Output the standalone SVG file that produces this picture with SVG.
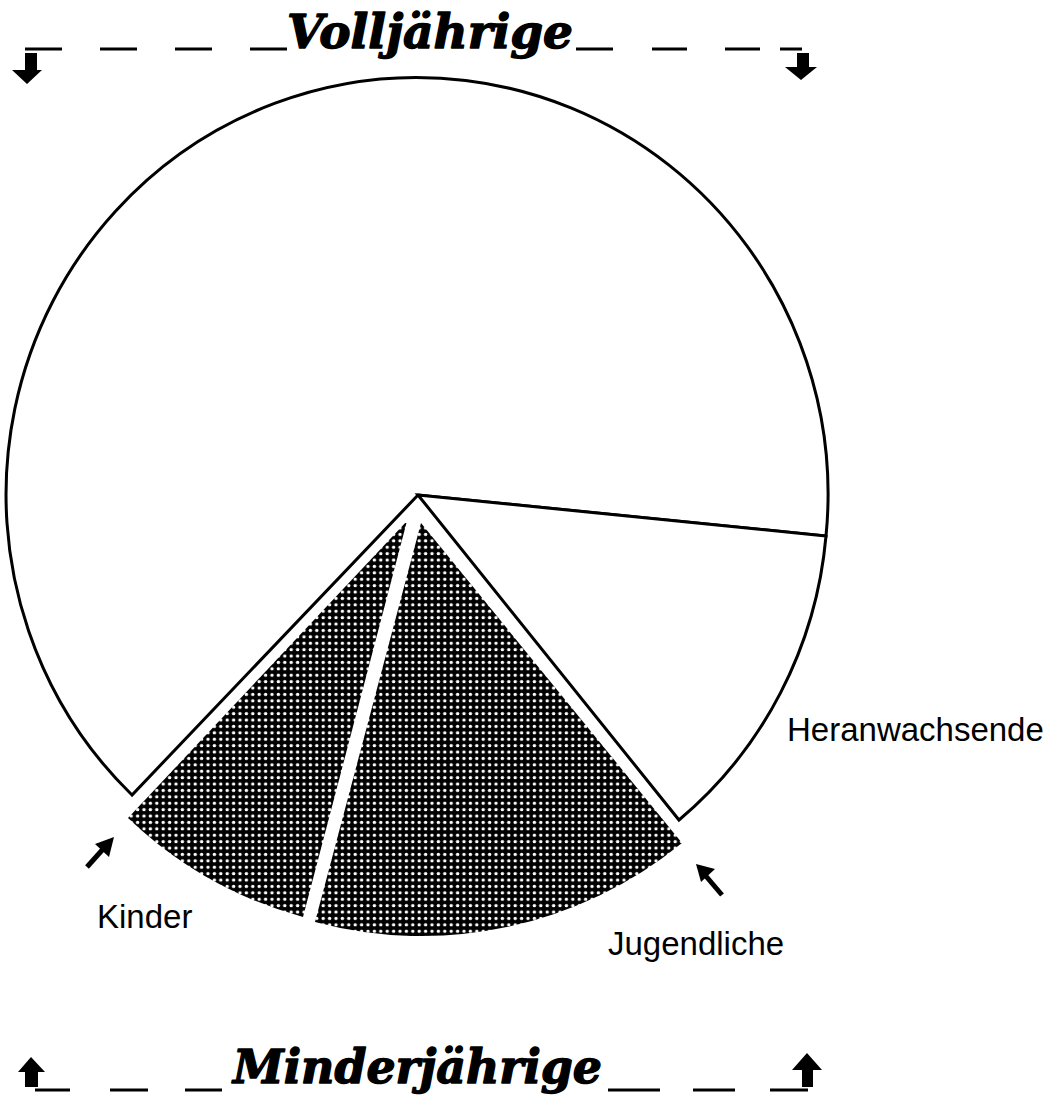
<svg xmlns="http://www.w3.org/2000/svg" width="1055" height="1101" viewBox="0 0 1055 1101">
  <style>
    .outline { fill: #fff; stroke: #000; stroke-width: 3; stroke-linejoin: miter; }
    .shade { fill: url(#dots); stroke: none; }
    .title { font-family: "DejaVu Serif", "Liberation Serif", serif; font-weight: bold; font-style: italic; font-size: 47px; fill: #000; stroke: #000; stroke-width: 1.4; stroke-linejoin: round; }
    .label { font-family: "Liberation Sans", Arial, sans-serif; font-size: 33px; fill: #000; }
    .dash { stroke: #000; stroke-width: 3; }
    .arrow { fill: #000; }
  </style>
  <defs>
    <pattern id="dots" patternUnits="userSpaceOnUse" width="6.4" height="6.4">
      <rect width="6.4" height="6.4" fill="#000"/>
      <circle cx="3.2" cy="3.2" r="1.7" fill="#fff"/>
    </pattern>
  </defs>
  <rect width="1055" height="1101" fill="#fff"/>

  <g id="volljaehrige-header">
    <g class="dash">
      <line x1="25" y1="49" x2="62" y2="49"/>
      <line x1="100" y1="49" x2="137" y2="49"/>
      <line x1="175" y1="49" x2="212" y2="49"/>
      <line x1="250" y1="49" x2="287" y2="49"/>
      <line x1="576" y1="49" x2="613" y2="49"/>
      <line x1="652" y1="49" x2="687" y2="49"/>
      <line x1="725" y1="49" x2="760" y2="49"/>
      <line x1="780" y1="49" x2="802" y2="49"/>
    </g>
    <text class="title" x="287" y="48" textLength="286" lengthAdjust="spacingAndGlyphs">Volljährige</text>
    <polygon class="arrow" points="25,53 37,53 37,70 42,70 27,84 12,70 25,70"/>
    <polygon class="arrow" points="797,53 809,53 809,67 817,67 801,80 785,67 797,67"/>
  </g>

  <g id="minderjaehrige-footer">
    <g class="dash">
      <line x1="35" y1="1090" x2="70" y2="1090"/>
      <line x1="110" y1="1090" x2="148" y2="1090"/>
      <line x1="185" y1="1090" x2="222" y2="1090"/>
      <line x1="608" y1="1090" x2="660" y2="1090"/>
      <line x1="693" y1="1090" x2="735" y2="1090"/>
      <line x1="770" y1="1090" x2="808" y2="1090"/>
    </g>
    <text class="title" x="233" y="1083" textLength="369" lengthAdjust="spacingAndGlyphs">Minderjährige</text>
    <polygon class="arrow" points="31,1057 45,1072 38,1072 38,1087 25,1087 25,1072 18,1072"/>
    <polygon class="arrow" points="807,1053 822,1070 813,1070 813,1087 802,1087 802,1070 792,1070"/>
  </g>

  <g id="volljaehrige-sector">
    <path class="outline" d="M418,495 L132,795 A411,417 0 1 1 826,536 Z"/>
  </g>
  <g id="heranwachsende-sector">
    <path class="outline" d="M418,495 L826,536 A411,417 0 0 1 679,820 Z"/>
    <text class="label" x="787" y="741">Heranwachsende</text>
  </g>
  <g id="kinder-sector">
    <path class="shade" d="M407,521 L303,917 A409,409 0 0 1 128,818 Z"/>
    <text class="label" x="97" y="928">Kinder</text>
  </g>
  <g id="jugendliche-sector">
    <path class="shade" d="M421,523 L682,843 A411,411 0 0 1 315,922 Z"/>
    <text class="label" x="608" y="955">Jugendliche</text>
  </g>

  <g id="connectors">
    <g id="kinder-pointer">
      <line x1="87" y1="867" x2="104" y2="848" stroke="#000" stroke-width="5"/>
      <polygon class="arrow" points="114,837 109,857 95,844"/>
    </g>
    <g id="jugendliche-pointer">
      <line x1="722" y1="895" x2="705" y2="875" stroke="#000" stroke-width="5"/>
      <polygon class="arrow" points="696,864 715,869 701,882"/>
    </g>
  </g>
</svg>
